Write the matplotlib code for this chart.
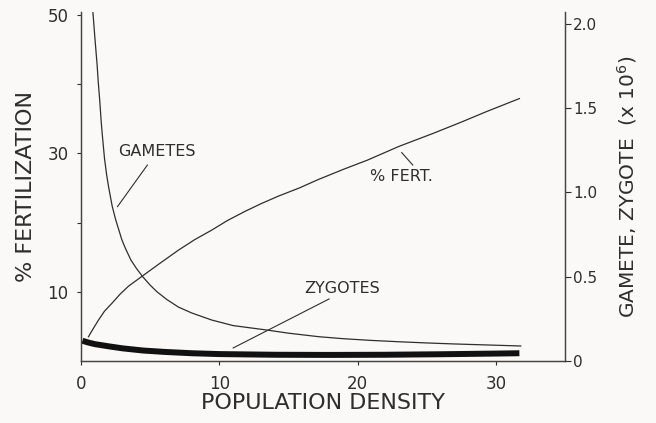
import matplotlib
matplotlib.use("Agg")
from matplotlib import pyplot as plt

# % fertilization (left axis)
fert_x = [0.54, 0.8, 1.26, 1.7, 2.22, 2.8, 3.43, 4.46, 5.7, 7.04, 8.2, 9.45, 10.6,
          11.85, 13.0, 14.26, 15.8, 17.15, 19.0, 20.7, 23.0, 25.5, 27.5, 29.3, 31.7]
fert_y = [3.5, 4.4, 5.9, 7.2, 8.3, 9.6, 10.8, 12.3, 14.1, 16.0, 17.5, 18.9, 20.3,
          21.6, 22.7, 23.8, 25.0, 26.2, 27.7, 29.0, 31.0, 32.9, 34.5, 36.0, 37.9]

# gametes (right axis, x 10^6)
gam_x = [0.85, 1.0, 1.1, 1.17, 1.25, 1.35, 1.45, 1.53, 1.7, 1.86, 2.0, 2.25, 2.5,
         2.95, 3.2, 3.6, 4.0, 4.46, 5.0, 5.5, 6.2, 7.04, 8.0, 9.45, 11.0, 13.4,
         15.0, 17.2, 19.0, 21.0, 23.0, 25.0, 27.0, 29.0, 31.8]
gam_y = [2.08, 1.92, 1.82, 1.75, 1.65, 1.55, 1.43, 1.35, 1.2, 1.1, 1.03, 0.92, 0.84,
         0.72, 0.67, 0.6, 0.55, 0.5, 0.45, 0.41, 0.365, 0.32, 0.285, 0.243, 0.21, 0.184,
         0.165, 0.144, 0.132, 0.122, 0.114, 0.107, 0.101, 0.096, 0.089]

# zygotes (right axis, x 10^6)
zyg_x = [0.1, 0.5, 1, 2, 3, 4.5, 6, 8, 10, 14, 18, 22, 26, 30, 31.7]
zyg_y = [0.12, 0.11, 0.1, 0.087, 0.075, 0.062, 0.054, 0.046, 0.041, 0.037, 0.036,
         0.037, 0.04, 0.044, 0.046]

left_ticks = [10, 20, 30, 40, 50]
left_labels = ['10', '', '30', '', '50']
right_ticks = [0, 0.5, 1.0, 1.5, 2.0]
right_labels = ['0', '0.5', '1.0', '1.5', '2.0']
x_ticks = [0, 10, 20, 30]

bg = '#fbf9f7'
ink = '#2e2e2e'

fig = plt.figure(figsize=(6.56, 4.23), dpi=100, facecolor=bg)
ax = fig.add_axes([0.1235, 0.1466, 0.7378, 0.825], facecolor=bg)
ax2 = ax.twinx()

ax.plot(fert_x, fert_y, color=ink, lw=0.9)
ax2.plot(gam_x, gam_y, color=ink, lw=0.9)
ax2.plot(zyg_x, zyg_y, color='#111111', lw=4.3, solid_capstyle='butt')

ax.set_xlim(0, 35)
ax.set_ylim(0, 50.4)
ax2.set_ylim(0, 2.07)

for a in (ax, ax2):
    a.spines['top'].set_visible(False)
    for s in a.spines.values():
        s.set_color('#444444')
        s.set_linewidth(0.9)

ax.set_xticks(x_ticks)
ax.set_yticks(left_ticks)
ax.set_yticklabels(left_labels)
ax2.set_yticks(right_ticks)
ax2.set_yticklabels(right_labels)

ax.tick_params(axis='x', direction='out', length=3, width=0.8, pad=7,
               labelsize=12, colors=ink)
ax.tick_params(axis='y', direction='out', length=3, width=0.8, pad=6,
               labelsize=12, colors=ink)
ax2.tick_params(axis='y', direction='out', length=4, width=0.8, pad=2,
                labelsize=11, colors=ink)

ax.set_xlabel('POPULATION DENSITY', fontsize=16, color=ink, labelpad=0)
ax.set_ylabel('% FERTILIZATION', fontsize=16, color=ink, labelpad=8)
ax2.set_ylabel('GAMETE, ZYGOTE  (x 10$^6$)', fontsize=14.5, color=ink, labelpad=13)

# curve labels with leader lines
ax.text(5.49, 30.3, 'GAMETES', fontsize=11.5, color=ink, ha='center', va='center')
ax.plot([4.8, 2.64], [28.3, 22.3], color=ink, lw=0.8)
ax.text(23.2, 26.6, '% FERT.', fontsize=11.5, color=ink, ha='center', va='center')
ax.plot([23.19, 23.99], [30.1, 28.3], color=ink, lw=0.8)
ax.text(18.9, 10.5, 'ZYGOTES', fontsize=11.5, color=ink, ha='center', va='center')
ax.plot([17.94, 11.0], [8.96, 1.88], color=ink, lw=0.8)

fig.savefig('out.png', dpi=100, facecolor=bg)
